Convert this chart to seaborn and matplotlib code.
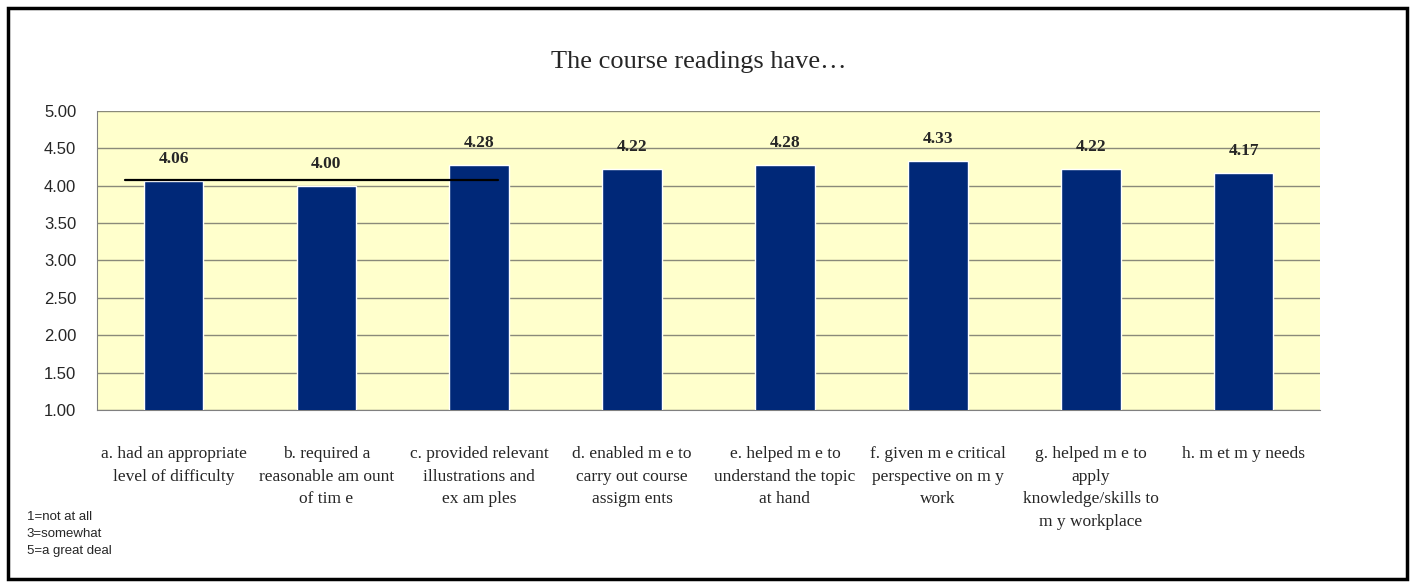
import numpy as np
import pandas as pd
import matplotlib
matplotlib.use("Agg")
import matplotlib.pyplot as plt
import seaborn as sns
from matplotlib.patches import Rectangle

# donnees
categories = [
    "a. had an appropriate\nlevel of difficulty",
    "b. required a\nreasonable am ount\nof tim e",
    "c. provided relevant\nillustrations and\nex am ples",
    "d. enabled m e to\ncarry out course\nassigm ents",
    "e. helped m e to\nunderstand the topic\nat hand",
    "f. given m e critical\nperspective on m y\nwork",
    "g. helped m e to\napply\nknowledge/skills to\nm y workplace",
    "h. m et m y needs",
]
scores = [4.06, 4.00, 4.28, 4.22, 4.28, 4.33, 4.22, 4.17]
score_labels = ["4.06", "4.00", "4.28", "4.22", "4.28", "4.33", "4.22", "4.17"]
y_ticks = [1.00, 1.50, 2.00, 2.50, 3.00, 3.50, 4.00, 4.50, 5.00]
# trait noir dessine a la main sur l'original
ref_line_value = 4.08
ref_line_span = (-0.32, 2.12)
legend_text = "1=not at all\n3=somewhat\n5=a great deal"

df = pd.DataFrame({"item": categories, "score": scores})

sns.set_style("white")
fig = plt.figure(figsize=(14.15, 5.84), dpi=100)
ax = fig.add_axes([0.0686, 0.298, 0.8643, 0.512])

sns.barplot(data=df, x="item", y="score", color="#002878", width=0.39,
            saturation=1, ax=ax, zorder=3)
ax.set_facecolor("#FFFFCC")
ax.set_ylim(1, 5)
ax.set_xlim(-0.5, len(categories) - 0.5)
ax.set_yticks(y_ticks)
ax.set_yticklabels([f"{v:.2f}" for v in y_ticks], family="Liberation Sans", fontsize=12)
ax.yaxis.grid(True, color="#8a8a7a", linewidth=1.0, zorder=0)
ax.set_axisbelow(True)

# etiquettes de categories
ax.set_xticks(range(len(categories)))
ax.set_xticklabels(categories, family="Liberation Serif", fontsize=12.5,
                   linespacing=1.55, va="top")
ax.tick_params(axis="x", which="major", length=0, pad=26)
ax.set_xticks(np.arange(-0.5, len(categories), 1), minor=True)
ax.tick_params(axis="x", which="minor", length=6, color="#808080", direction="out")
ax.tick_params(axis="y", length=5, color="#808080", direction="out", pad=10)
ax.set_xlabel("")
ax.set_ylabel("")

for s in ["top", "right"]:
    ax.spines[s].set_visible(False)
for s in ["left", "bottom"]:
    ax.spines[s].set_color("#808080")

for i, (v, lab) in enumerate(zip(scores, score_labels)):
    ax.annotate(lab, (i, v), xytext=(0, 10), textcoords="offset points",
                ha="center", va="bottom", family="Liberation Serif",
                fontweight="bold", fontsize=12.5)

ax.plot(ref_line_span, [ref_line_value, ref_line_value], color="black",
        linewidth=1.6, zorder=5)

fig.text(0.494, 0.894, "The course readings have\u2026", ha="center", va="center",
         family="Liberation Serif", fontsize=19)
fig.text(0.019, 0.125, legend_text, ha="left", va="top",
         family="Liberation Sans", fontsize=9.5, linespacing=1.55)

fig.patches.append(Rectangle((0.006, 0.008), 0.988, 0.978, transform=fig.transFigure,
                             fill=False, edgecolor="black", linewidth=2.5))

fig.savefig("out.png", dpi=100)
